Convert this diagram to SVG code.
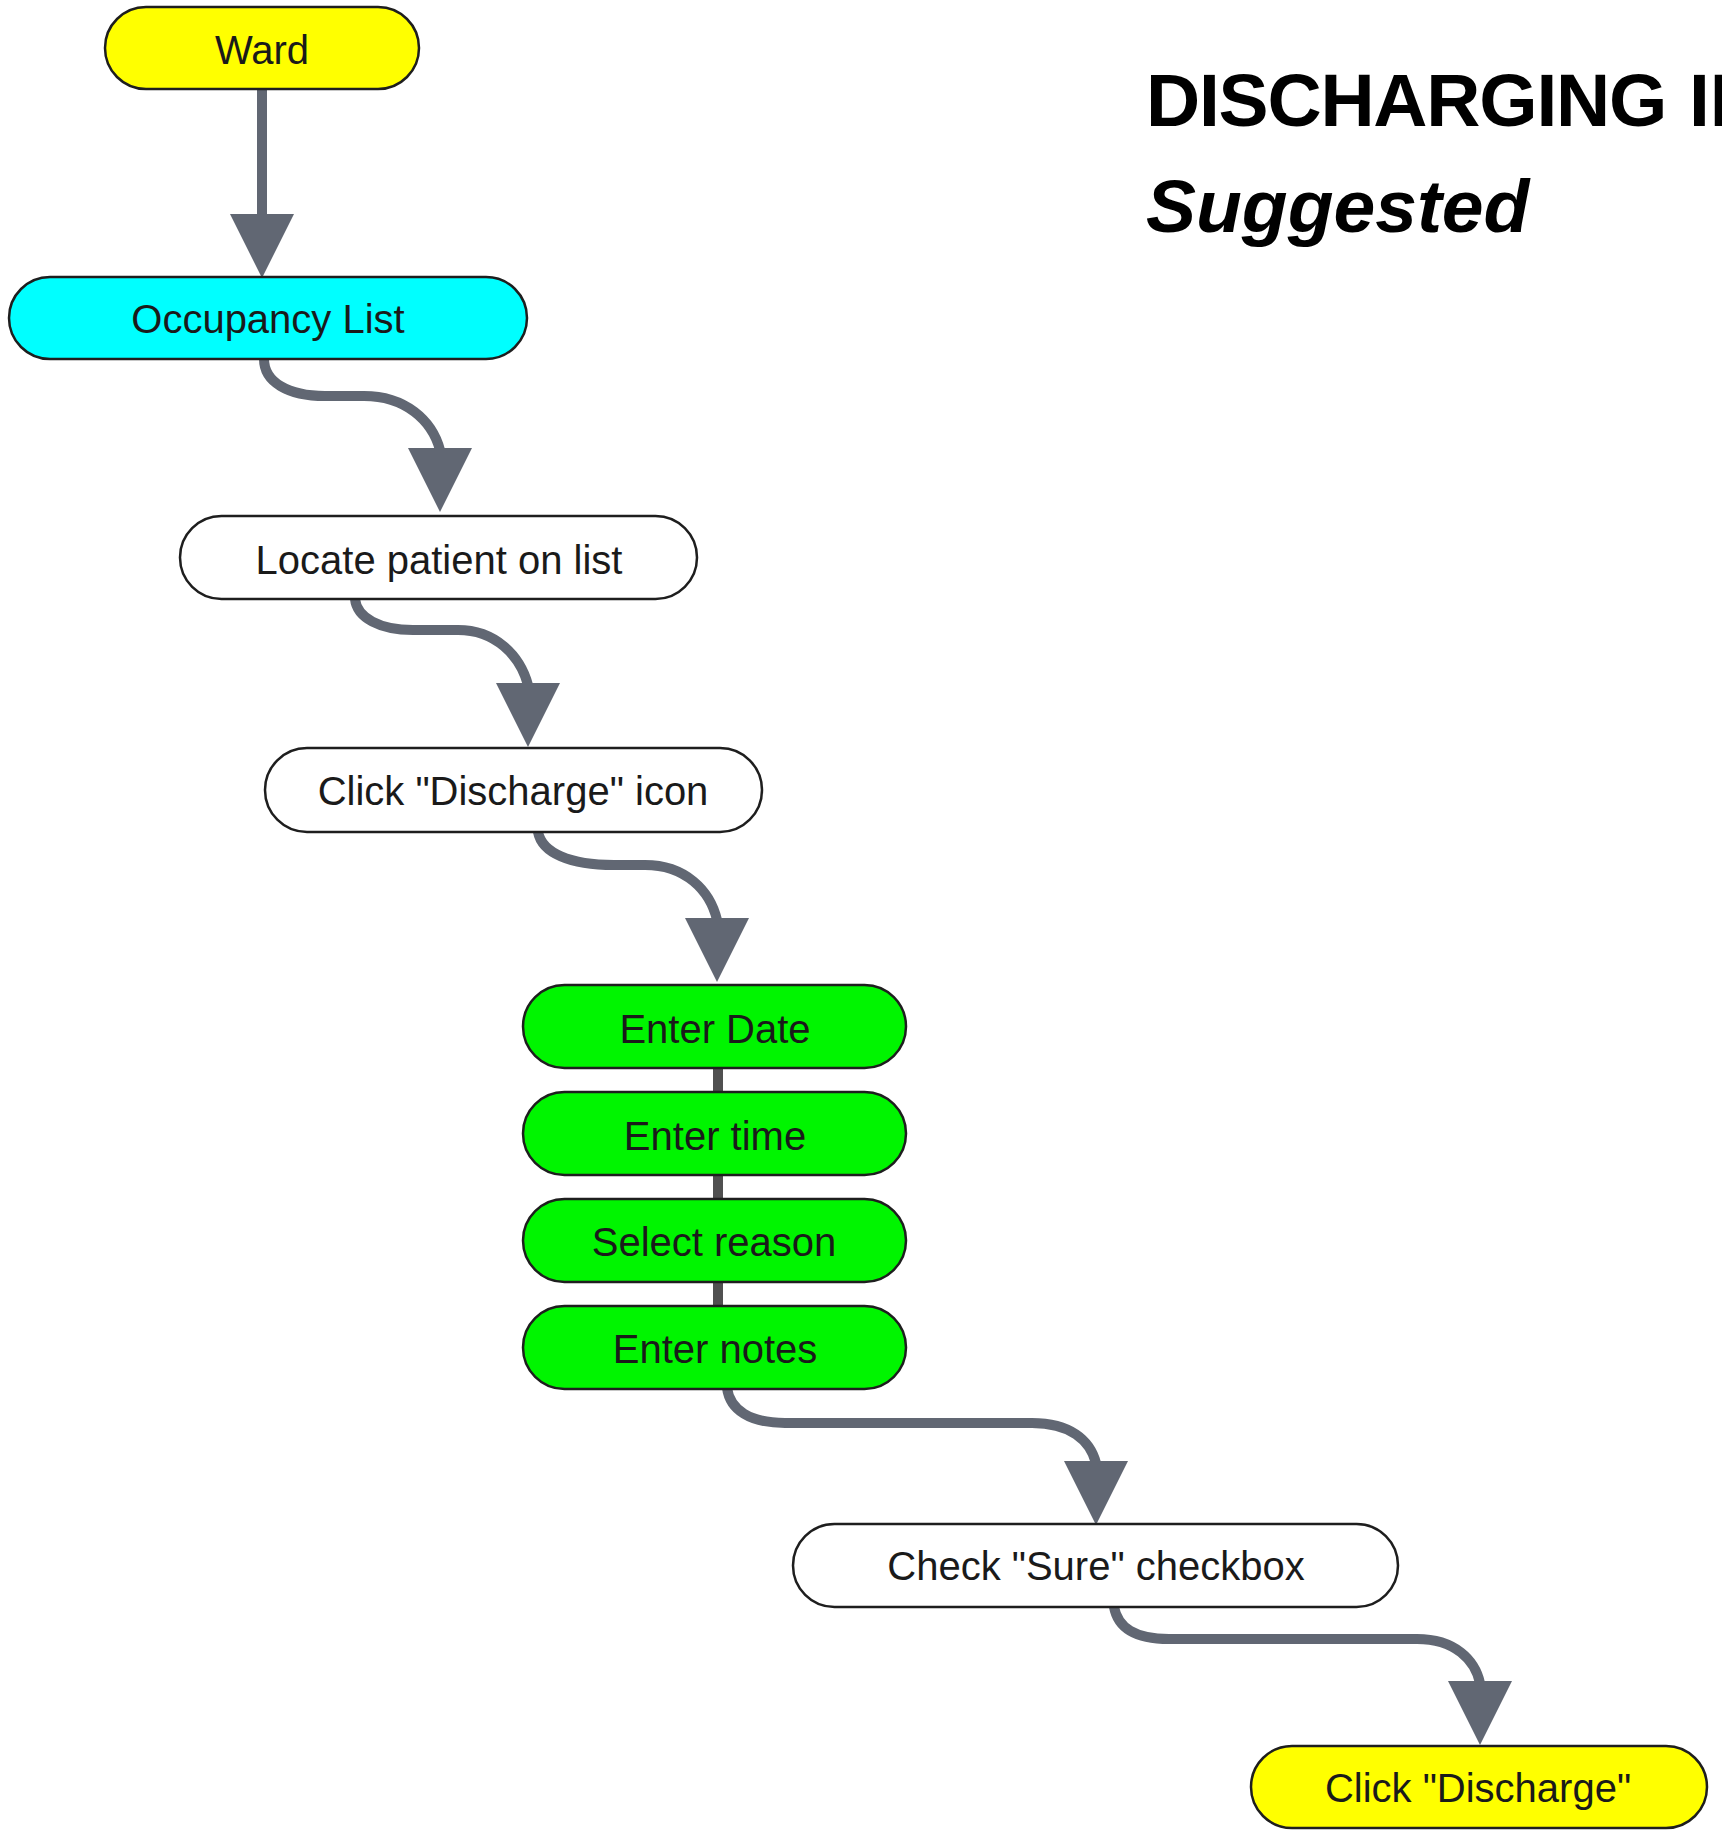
<svg xmlns="http://www.w3.org/2000/svg" xmlns:xlink="http://www.w3.org/1999/xlink" width="1722" height="1832" viewBox="0 0 1722 1832">
<style>
.node rect{stroke:#1e1e1e;stroke-width:2.5}
.node text{font-family:"Liberation Sans",Arial,sans-serif;font-size:40px;fill:#1a1a1a;text-anchor:middle}
.yellow rect{fill:#ffff00}
.cyan rect{fill:#00ffff}
.white rect{fill:#ffffff}
.green rect{fill:#00f500}
.conn{fill:none;stroke:#616773;stroke-width:10}
.link{fill:none;stroke:#505050;stroke-width:10}
.head{fill:#616773}
.title{font-family:"Liberation Sans",Arial,sans-serif;font-weight:bold;font-size:75px;fill:#000}
</style>
<defs>
<path id="ah" d="M-32,0 L32,0 L0,64 Z"/>
</defs>
<rect width="1722" height="1832" fill="#ffffff"/>
<g id="connectors">
<path class="conn" d="M262,89 L262,216"/>
<path class="conn" d="M264,359 C264,382 288,396 325,396 L364,396 C405,396 432,420 440,450"/>
<path class="conn" d="M355,599 C357,618 380,630 413,630 L458,630 C495,630 520,655 528,685"/>
<path class="conn" d="M538,832 C542,853 570,865 614,865 L645,865 C685,865 710,890 717,920"/>
<path class="conn" d="M727,1388 C730,1410 750,1423 785,1423 L1032,1423 C1070,1423 1090,1440 1096,1463"/>
<path class="conn" d="M1114,1607 C1118,1628 1135,1639 1169,1639 L1417,1639 C1455,1639 1475,1660 1480,1683"/>
<path class="link" d="M718,1068 L718,1092 M718,1175 L718,1199 M718,1282 L718,1306"/>
<use href="#ah" class="head" x="262" y="214"/>
<use href="#ah" class="head" x="440" y="448"/>
<use href="#ah" class="head" x="528" y="683"/>
<use href="#ah" class="head" x="717" y="918"/>
<use href="#ah" class="head" x="1096" y="1461"/>
<use href="#ah" class="head" x="1480" y="1681"/>
</g>
<g id="ward" class="node yellow"><rect x="105" y="7" width="314" height="82" rx="41"/><text x="262" y="64">Ward</text></g>
<g id="occupancy" class="node cyan"><rect x="9" y="277" width="518" height="82" rx="41"/><text x="268" y="333">Occupancy List</text></g>
<g id="locate" class="node white"><rect x="180" y="516" width="517" height="83" rx="41.5"/><text x="439" y="574">Locate patient on list</text></g>
<g id="click-icon" class="node white"><rect x="265" y="748" width="497" height="84" rx="42"/><text x="513" y="805">Click "Discharge" icon</text></g>
<g id="enter-date" class="node green"><rect x="523" y="985" width="383" height="83" rx="41.5"/><text x="715" y="1043">Enter Date</text></g>
<g id="enter-time" class="node green"><rect x="523" y="1092" width="383" height="83" rx="41.5"/><text x="715" y="1150">Enter time</text></g>
<g id="select-reason" class="node green"><rect x="523" y="1199" width="383" height="83" rx="41.5"/><text x="714" y="1256">Select reason</text></g>
<g id="enter-notes" class="node green"><rect x="523" y="1306" width="383" height="83" rx="41.5"/><text x="715" y="1363">Enter notes</text></g>
<g id="check-sure" class="node white"><rect x="793" y="1524" width="605" height="83" rx="41.5"/><text x="1096" y="1580">Check "Sure" checkbox</text></g>
<g id="click-discharge" class="node yellow"><rect x="1251" y="1746" width="456" height="82" rx="41"/><text x="1478" y="1802">Click "Discharge"</text></g>
<g id="title">
<text class="title" x="1146" y="126" letter-spacing="-1.2">DISCHARGING</text>
<text class="title" x="1689" y="126">IN</text>
<text class="title" x="1146" y="232" font-style="italic">Suggested</text>
</g>
</svg>
